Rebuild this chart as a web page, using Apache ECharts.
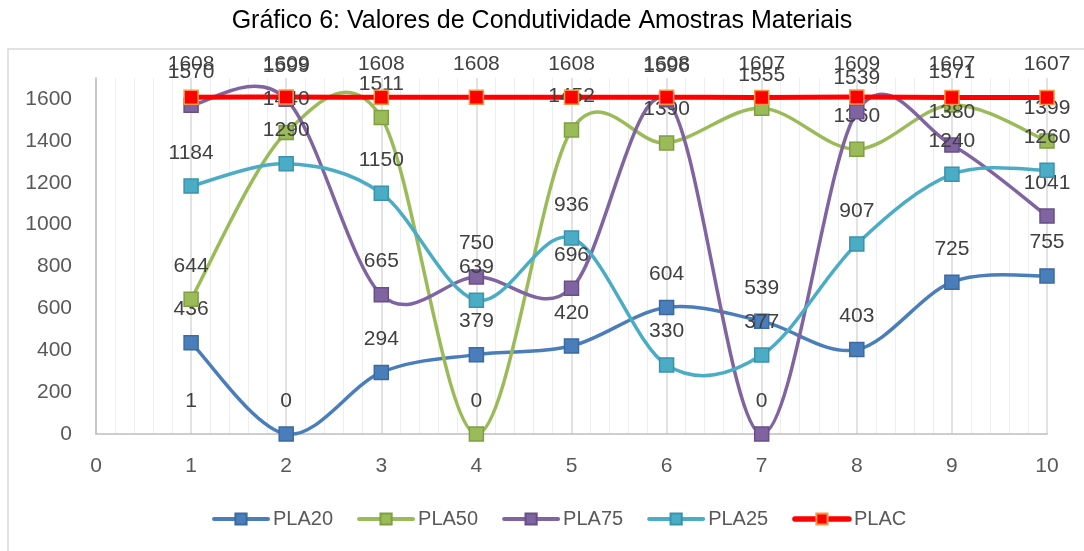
<!DOCTYPE html>
<html>
<head>
<meta charset="utf-8">
<script src="https://cdn.jsdelivr.net/npm/echarts@6/dist/echarts.min.js"></script>
<style>
html,body{margin:0;padding:0;background:#fff;}
#chart{width:1084px;height:551px;}
</style>
</head>
<body>
<div id="chart"></div>
<script>
var xValues = [1, 2, 3, 4, 5, 6, 7, 8, 9, 10];
var PLA20 = [436, 0, 294, 379, 420, 604, 539, 403, 725, 755];
var PLA50 = [644, 1440, 1511, 0, 1452, 1390, 1555, 1360, 1571, 1399];
var PLA75 = [1570, 1599, 665, 750, 696, 1596, 0, 1539, 1380, 1041];
var PLA25 = [1184, 1290, 1150, 639, 936, 330, 377, 907, 1240, 1260];
var PLAC = [1608, 1609, 1608, 1608, 1608, 1608, 1607, 1609, 1607, 1607];
var extraX = [1];
var extraY = [1];
var seriesNames = ['PLA20', 'PLA50', 'PLA75', 'PLA25', 'PLAC'];

function pairs(xs, ys) { return xs.map(function (x, i) { return [x, ys[i]]; }); }

var FONT = '"Liberation Sans", Arial, sans-serif';
var labelStyle = {
  show: true, position: 'top', distance: 15,
  color: '#404040', fontSize: 21, fontFamily: FONT,
  formatter: function (p) { return p.value[1]; }
};

// Smoothed curve (Excel-style Catmull-Rom) drawn through the axis scales
function curveSeries(name, ys, color, width, z) {
  var xs = xValues;
  return {
    name: name + '_curve', type: 'custom', z: z, silent: true,
    data: pairs(xs, ys),
    encode: { x: 0, y: 1 },
    renderItem: function (params, api) {
      var i = params.dataIndex;
      if (i >= xs.length - 1) return null;
      var P = function (k) {
        k = Math.max(0, Math.min(xs.length - 1, k));
        return api.coord([xs[k], ys[k]]);
      };
      var p0 = P(i - 1), p1 = P(i), p2 = P(i + 1), p3 = P(i + 2);
      return {
        type: 'bezierCurve',
        shape: {
          x1: p1[0], y1: p1[1], x2: p2[0], y2: p2[1],
          cpx1: p1[0] + (p2[0] - p0[0]) / 6, cpy1: p1[1] + (p2[1] - p0[1]) / 6,
          cpx2: p2[0] - (p3[0] - p1[0]) / 6, cpy2: p2[1] - (p3[1] - p1[1]) / 6
        },
        style: { stroke: color, lineWidth: width, fill: null, lineCap: 'round' }
      };
    }
  };
}

function markerSeries(name, ys, color, border, width, symSize, z) {
  return {
    name: name, type: 'line', data: pairs(xValues, ys),
    symbol: 'rect', symbolSize: symSize, z: z,
    lineStyle: { color: color, width: width, opacity: 0 },
    itemStyle: { color: color, borderColor: border, borderWidth: 1.5 },
    label: labelStyle,
    emphasis: { disabled: true }
  };
}

var styles = [
  { n: 'PLA20', d: PLA20, c: '#4a7ebb', b: '#3b6aa0', w: 3.5 },
  { n: 'PLA50', d: PLA50, c: '#9bbb59', b: '#7f9f45', w: 3.5 },
  { n: 'PLA75', d: PLA75, c: '#8064a2', b: '#674f87', w: 3.5 },
  { n: 'PLA25', d: PLA25, c: '#4bacc6', b: '#3a93ab', w: 3.5 },
  { n: 'PLAC', d: PLAC, c: '#ff0000', b: '#f79646', w: 5 }
];

var series = [];
styles.forEach(function (s, i) {
  series.push(curveSeries(s.n, s.d, s.c, s.w, 2 + i));
});
styles.forEach(function (s, i) {
  series.push(markerSeries(s.n, s.d, s.c, s.b, s.w, 14, 10 + i));
});
series.push({
  name: 'extra', type: 'line', data: pairs(extraX, extraY),
  symbol: 'rect', symbolSize: 14,
  itemStyle: { color: 'rgba(0,0,0,0)', borderWidth: 0 },
  lineStyle: { width: 0 }, label: labelStyle, z: 1,
  emphasis: { disabled: true }
});

var legendData = styles.map(function (s) {
  return { name: s.n, lineStyle: { width: s.w + 0.5, opacity: 1, cap: 'round' } };
});

var chart = echarts.init(document.getElementById('chart'), null, { renderer: 'canvas' });
chart.setOption({
  animation: false,
  backgroundColor: '#ffffff',
  title: {
    text: 'Gráfico 6: Valores de Condutividade Amostras Materiais',
    left: 'center', top: 4,
    textStyle: { color: '#000', fontSize: 25, fontWeight: 'normal', fontFamily: FONT }
  },
  graphic: [{
    type: 'rect', silent: true, z: -1,
    shape: { x: 8, y: 49, width: 1100, height: 560 },
    style: { fill: 'none', stroke: '#d9d9d9', lineWidth: 1.5 }
  }],
  legend: {
    data: legendData,
    top: 504, left: 207,
    itemWidth: 54, itemHeight: 14, itemGap: 24,
    lineStyle: { opacity: 1, width: 4 },
    textStyle: { color: '#595959', fontSize: 20, fontFamily: FONT, padding: [0, 0, 0, 0] }
  },
  grid: { left: 96, right: 37, top: 78, bottom: 117, containLabel: false },
  xAxis: {
    type: 'value', min: 0, max: 10, interval: 1,
    axisLine: { show: true, lineStyle: { color: '#bfbfbf', width: 1.5 } },
    axisTick: { show: false },
    axisLabel: { color: '#595959', fontSize: 21, fontFamily: FONT, margin: 22 },
    splitLine: { show: true, lineStyle: { color: '#d9d9d9', width: 1.5 } },
    minorTick: { show: false, splitNumber: 5 },
    minorSplitLine: { show: true, lineStyle: { color: '#eeeeee', width: 1 } }
  },
  yAxis: {
    type: 'value', min: 0, max: 1700, interval: 200,
    axisLine: { show: true, lineStyle: { color: '#bfbfbf', width: 1.5 } },
    axisTick: { show: false },
    axisLabel: {
      color: '#595959', fontSize: 21, fontFamily: FONT, margin: 24, showMaxLabel: false,
      formatter: function (v) { return String(v); }
    },
    splitLine: { show: false }
  },
  series: series
});
</script>
</body>
</html>
